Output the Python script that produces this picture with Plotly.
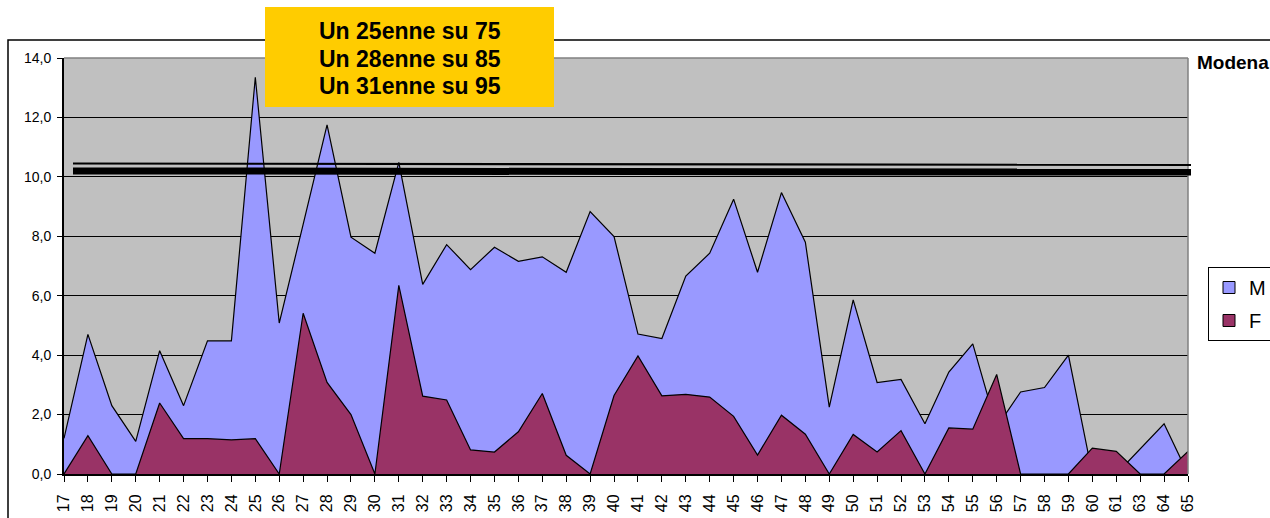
import plotly.graph_objects as go

# ---------------- data ----------------
ages = ["17", "18", "19", "20", "21", "22", "23", "24", "25", "26", "27", "28", "29", "30",
        "31", "32", "33", "34", "35", "36", "37", "38", "39", "40", "41", "42", "43", "44",
        "45", "46", "47", "48", "49", "50", "51", "52", "53", "54", "55", "56", "57", "58",
        "59", "60", "61", "63", "64", "65"]

m_values = [1.2, 4.7, 2.3, 1.1, 4.15, 2.3, 4.48, 4.48, 13.35, 5.08, 8.4, 11.75, 7.97, 7.43,
            10.49, 6.38, 7.72, 6.88, 7.63, 7.16, 7.31, 6.79, 8.83, 7.99, 4.71, 4.56, 6.66, 7.43,
            9.25, 6.79, 9.47, 7.80, 2.25, 5.86, 3.08, 3.18, 1.69, 3.43, 4.38, 1.58, 2.76, 2.91,
            4.0, 0.0, 0.0, 0.85, 1.69, 0.0]

f_values = [0.0, 1.29, 0.0, 0.0, 2.39, 1.19, 1.19, 1.15, 1.19, 0.0, 5.41, 3.08, 2.0, 0.0,
            6.35, 2.62, 2.49, 0.81, 0.74, 1.42, 2.71, 0.63, 0.0, 2.64, 3.97, 2.63, 2.68, 2.59,
            1.94, 0.64, 1.98, 1.34, 0.0, 1.33, 0.74, 1.46, 0.0, 1.55, 1.51, 3.35, 0.0, 0.0,
            0.0, 0.87, 0.76, 0.0, 0.0, 0.76]

series_names = ["M", "F"]
box_lines = ["Un 25enne su 75", "Un 28enne su 85", "Un 31enne su 95"]
side_label = "Modena"

# reference lines drawn on the chart (value at left end, value at right end)
thin_line = (10.45, 10.40)
thick_line = (10.20, 10.16)

y_ticks = [0, 2, 4, 6, 8, 10, 12, 14]

# ---------------- styles ----------------
M_COLOR = "#9999FF"
F_COLOR = "#993366"
PLOT_BG = "#C0C0C0"
FONT = "Liberation Sans, Arial, sans-serif"

W, H = 1270, 518
L, R, T, B = 64, 82, 58, 44
PW, PH = W - L - R, H - T - B


def px_x(px):
    return (px - L) / PW


def px_y(py):
    return (H - B - py) / PH


fig = go.Figure()

fig.add_trace(go.Scatter(
    x=ages, y=m_values, name=series_names[0], mode="lines",
    fill="tozeroy", fillcolor=M_COLOR,
    line=dict(color="black", width=1.2), showlegend=False, hoverinfo="x+y"))
fig.add_trace(go.Scatter(
    x=ages, y=f_values, name=series_names[1], mode="lines",
    fill="tozeroy", fillcolor=F_COLOR,
    line=dict(color="black", width=1.2), showlegend=False, hoverinfo="x+y"))

for nm, col in zip(series_names, [M_COLOR, F_COLOR]):
    fig.add_trace(go.Scatter(
        x=[None], y=[None], name=nm, mode="markers", legendgroup=nm,
        marker=dict(symbol="square", size=12, color=col, line=dict(color="black", width=1))))

shapes = []
shapes.append(dict(type="rect", xref="paper", yref="paper",
                   x0=px_x(8), x1=px_x(1320), y0=px_y(560), y1=px_y(40),
                   line=dict(color="black", width=1.5), fillcolor="rgba(0,0,0,0)", layer="below"))
shapes.append(dict(type="line", xref="paper", yref="paper", x0=0, x1=1, y0=1, y1=1,
                   line=dict(color="#808080", width=1.5), layer="above"))
shapes.append(dict(type="line", xref="paper", yref="paper", x0=1, x1=1, y0=0, y1=1,
                   line=dict(color="#808080", width=1.5), layer="above"))
shapes.append(dict(type="line", xref="paper", yref="y", x0=px_x(73), x1=px_x(1191),
                   y0=thin_line[0], y1=thin_line[1],
                   line=dict(color="black", width=2.2), layer="above"))
shapes.append(dict(type="line", xref="paper", yref="y", x0=px_x(73), x1=px_x(1191),
                   y0=thick_line[0], y1=thick_line[1],
                   line=dict(color="black", width=7), layer="above"))
shapes.append(dict(type="rect", xref="paper", yref="paper",
                   x0=px_x(265), x1=px_x(554), y0=px_y(107), y1=px_y(7),
                   line=dict(width=0), fillcolor="#FFCC00", layer="above"))

annotations = []
for i, txt in enumerate(box_lines):
    annotations.append(dict(
        text=txt, xref="paper", yref="paper", x=px_x(409.5), y=px_y(31.5 + 27 * i),
        xanchor="center", yanchor="middle", showarrow=False,
        font=dict(family=FONT, size=23, color="black", weight=700)))
annotations.append(dict(
    text=side_label, xref="paper", yref="paper", x=px_x(1195), y=px_y(63),
    xanchor="left", yanchor="middle", showarrow=False,
    font=dict(family=FONT, size=19, color="black", weight=700)))

fig.update_layout(
    width=W, height=H, autosize=False,
    margin=dict(l=L, r=R, t=T, b=B, pad=0, autoexpand=False),
    paper_bgcolor="white", plot_bgcolor=PLOT_BG,
    separators=",.",
    font=dict(family=FONT, color="black"),
    shapes=shapes, annotations=annotations,
    legend=dict(x=px_x(1208), y=px_y(267), xanchor="left", yanchor="top",
                bordercolor="black", borderwidth=1, bgcolor="white",
                font=dict(family=FONT, size=20, color="black"),
                tracegroupgap=4, itemsizing="trace"),
    xaxis=dict(type="category", range=[0, len(ages) - 1], showgrid=False,
               tickmode="array", tickvals=ages, ticktext=ages,
               tickangle=-90, ticks="outside", ticklen=6, tickcolor="black",
               ticklabelstandoff=6,
               showline=True, linecolor="black", linewidth=2,
               tickfont=dict(family=FONT, size=16, color="black"), fixedrange=True,
               automargin=False),
    yaxis=dict(range=[0, 14], tickvals=y_ticks, tickformat=".1f",
               showgrid=True, gridcolor="black", gridwidth=1, zeroline=False,
               ticks="outside", ticklen=5, tickcolor="black",
               ticklabelstandoff=3,
               showline=True, linecolor="black", linewidth=2,
               tickfont=dict(family=FONT, size=14, color="black"), fixedrange=True,
               automargin=False),
)

page_js = """
var gd = document.getElementById('{plot_id}');
document.body.style.margin='0';
document.body.style.overflow='hidden';
gd.style.overflow='hidden';
"""

fig.write_html(
    "out.html",
    config={"responsive": False, "displayModeBar": False},
    post_script=page_js,
)
